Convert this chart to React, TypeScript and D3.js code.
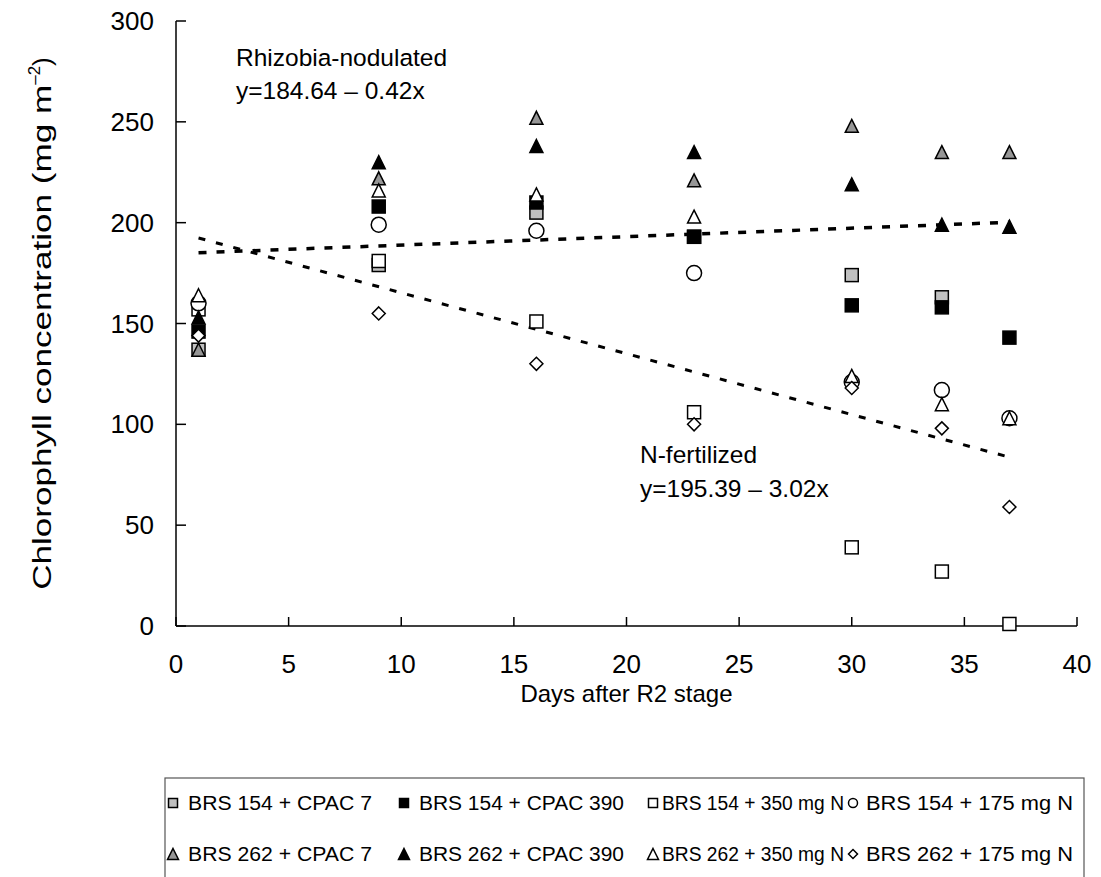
import React from 'react'
import * as d3 from 'd3'

const W = 1101, H = 877
const margin = { top: 21, right: 24, bottom: 251, left: 176 }

const days = [1, 9, 16, 23, 30, 34, 37]

const seriesNames = [
  'BRS 154 + CPAC 7',
  'BRS 154 + CPAC 390',
  'BRS 154 + 350 mg N',
  'BRS 154 + 175 mg N',
  'BRS 262 + CPAC 7',
  'BRS 262 + CPAC 390',
  'BRS 262 + 350 mg N',
  'BRS 262 + 175 mg N',
]
const shapes = ['square', 'square', 'square', 'circle', 'triangle', 'triangle', 'triangle', 'diamond']
const fills = ['#c0c0c0', '#000', '#fff', '#fff', '#969696', '#000', '#fff', '#fff']

// chlorophyll values, one array per series, matched to days
const brs154Cpac7 = [137, 179, 205, 193, 174, 163, null]
const brs154Cpac390 = [146, 208, 210, 193, 159, 158, 143]
const brs154N350 = [157, 181, 151, 106, 39, 27, 1]
const brs154N175 = [160, 199, 196, 175, 121, 117, 103]
const brs262Cpac7 = [137, 222, 252, 221, 248, 235, 235]
const brs262Cpac390 = [153, 230, 238, 235, 219, 199, 198]
const brs262N350 = [164, 216, 214, 203, 124, 110, 103]
const brs262N175 = [144, 155, 130, 100, 118, 98, 59]

const seriesValues = [brs154Cpac7, brs154Cpac390, brs154N350, brs154N175, brs262Cpac7, brs262Cpac390, brs262N350, brs262N175]

// fitted trend lines (start and end of the regression segment)
const rhizobiaTrend = [{ day: 1, v: 185.1 }, { day: 37, v: 200.2 }]
const nFertTrend = [{ day: 1, v: 192.4 }, { day: 37, v: 83.7 }]

const xTicks = [0, 5, 10, 15, 20, 25, 30, 35, 40]
const yTicks = [0, 50, 100, 150, 200, 250, 300]

const font = 'Liberation Sans, Arial, sans-serif'

function Marker({ shape, fill, x, y, s }: { shape: string; fill: string; x: number; y: number; s: number }) {
  const h = s / 2
  if (shape === 'square')
    return <rect x={x - h} y={y - h} width={s} height={s} fill={fill} stroke="#000" strokeWidth={1.5} />
  if (shape === 'circle')
    return <circle cx={x} cy={y} r={h} fill={fill} stroke="#000" strokeWidth={1.5} />
  if (shape === 'triangle')
    return <path d={`M${x},${y - h}L${x + h},${y + h}L${x - h},${y + h}Z`} fill={fill} stroke="#000" strokeWidth={1.5} />
  return <path d={`M${x},${y - h}L${x + h},${y}L${x},${y + h}L${x - h},${y}Z`} fill={fill} stroke="#000" strokeWidth={1.5} />
}

export default function App() {
  const x = d3.scaleLinear().domain([0, 40]).range([margin.left, W - margin.right])
  const y = d3.scaleLinear().domain([0, 300]).range([H - margin.bottom, margin.top])
  const line = d3.line<{ day: number; v: number }>().x(d => x(d.day)).y(d => y(d.v))

  const legendMarkX = [173, 404, 653, 853]
  const legendTextX = [188, 419, 662, 866]
  const legendTextW = [184, 205, 182, 207]
  const legendRowY = [802, 853]

  return (
    <svg width={W} height={H} style={{ position: 'absolute', left: 0, top: 0, background: '#fff' }} fontFamily={font}>
      <rect width={W} height={H} fill="#fff" />
      {/* axes */}
      <line x1={x(0)} x2={x(0)} y1={y(300)} y2={y(0)} stroke="#000" strokeWidth={1.5} />
      <line x1={x(0)} x2={x(40)} y1={y(0)} y2={y(0)} stroke="#000" strokeWidth={1.5} />
      {yTicks.map(t => (
        <g key={'y' + t}>
          <line x1={x(0)} x2={x(0) + 10} y1={y(t)} y2={y(t)} stroke="#000" strokeWidth={1.5} />
          <text x={154} y={y(t) + 9} textAnchor="end" fontSize={26}>{t}</text>
        </g>
      ))}
      {xTicks.map(t => (
        <g key={'x' + t}>
          <line x1={x(t)} x2={x(t)} y1={y(0)} y2={y(0) - 9} stroke="#000" strokeWidth={1.5} />
          <text x={x(t)} y={673} textAnchor="middle" fontSize={26}>{t}</text>
        </g>
      ))}
      <text x={x(20)} y={702} textAnchor="middle" fontSize={24}>Days after R2 stage</text>
      <text transform={`translate(51,${(y(0) + y(300)) / 2}) rotate(-90)`} textAnchor="middle" fontSize={26}>
        <tspan textLength={505} lengthAdjust="spacingAndGlyphs">Chlorophyll concentration (mg m</tspan>
        <tspan dy={-11} fontSize={17}>–2</tspan><tspan dy={11}>)</tspan>
      </text>

      {/* trend lines */}
      <path d={line(rhizobiaTrend) || ''} fill="none" stroke="#000" strokeWidth={3.5} strokeDasharray="8 10" />
      <path d={line(nFertTrend) || ''} fill="none" stroke="#000" strokeWidth={3} strokeDasharray="7 11" />

      {/* points */}
      {seriesValues.map((vals, si) => (
        <g key={'s' + si}>
          {vals.map((v, di) => v == null ? null : (
            <Marker key={di} shape={shapes[si]} fill={fills[si]} x={x(days[di])} y={y(v)} s={shapes[si] === 'circle' ? 15 : 13} />
          ))}
        </g>
      ))}

      {/* annotations */}
      <text x={236} y={66} fontSize={24.5}>Rhizobia-nodulated</text>
      <text x={236} y={99} fontSize={24.5}>y=184.64 – 0.42x</text>
      <text x={640} y={463} fontSize={24.5}>N-fertilized</text>
      <text x={640} y={497} fontSize={24.5}>y=195.39 – 3.02x</text>

      {/* legend */}
      <rect x={165} y={778} width={919} height={120} fill="#fff" stroke="#555" strokeWidth={1.2} />
      {seriesNames.map((name, i) => {
        const row = i < 4 ? 0 : 1
        const col = i % 4
        const cy = legendRowY[row]
        return (
          <g key={'l' + i}>
            <Marker shape={shapes[i]} fill={fills[i]} x={legendMarkX[col]} y={cy + 1} s={shapes[i] === 'triangle' ? 11 : 9} />
            <text x={legendTextX[col]} y={cy + 8} fontSize={20.5} textLength={legendTextW[col]} lengthAdjust="spacingAndGlyphs">{name}</text>
          </g>
        )
      })}
    </svg>
  )
}
